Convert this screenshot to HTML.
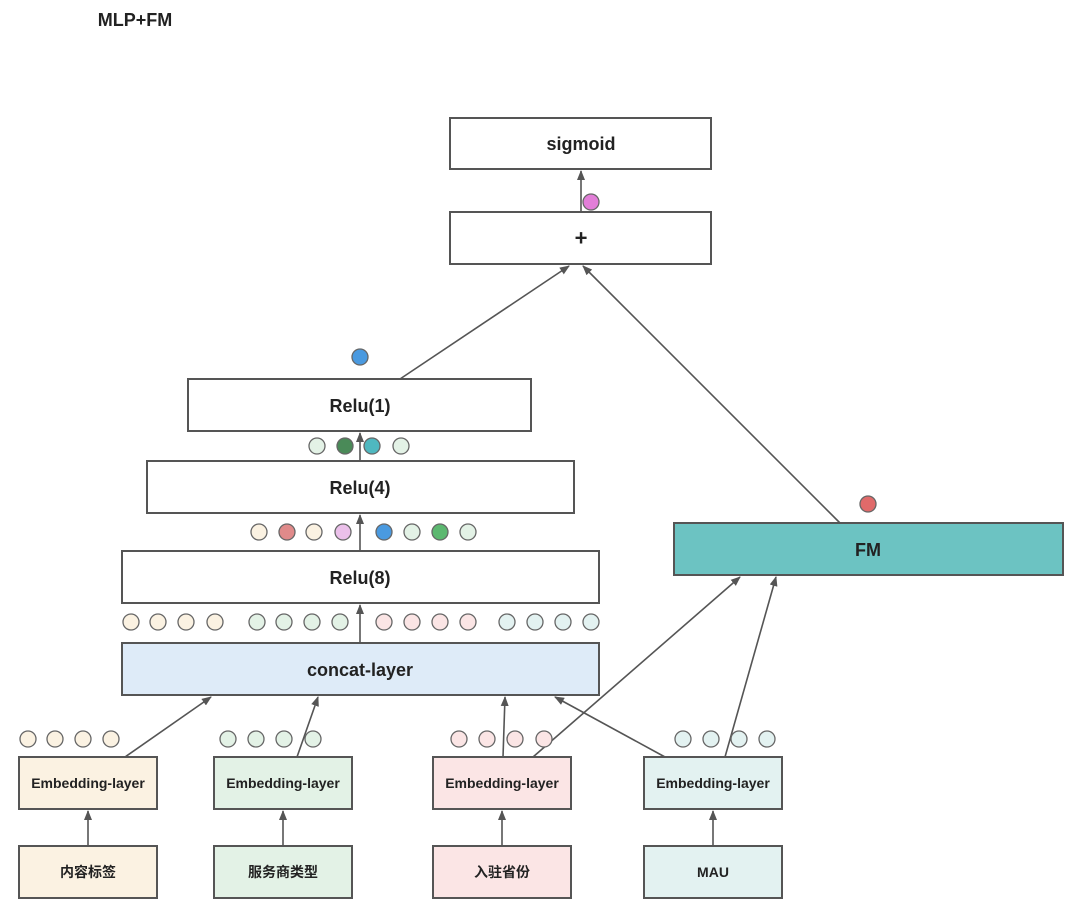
<!DOCTYPE html>
<html><head><meta charset="utf-8"><style>
body{margin:0;background:#fff}
svg text{font-family:"Liberation Sans","Noto Sans CJK SC",sans-serif;font-weight:bold;fill:#222;text-anchor:middle;dominant-baseline:central}
</style></head><body>
<svg width="1080" height="904" viewBox="0 0 1080 904" xmlns="http://www.w3.org/2000/svg">
<defs><marker id="a" markerWidth="10" markerHeight="8" refX="9" refY="4" orient="auto" markerUnits="userSpaceOnUse"><path d="M0,0 L10,4 L0,8 z" fill="#555"/></marker></defs>
<text x="135" y="20" style="font-size:18px">MLP+FM</text>
<g stroke="#555" stroke-width="2">
<rect x="450" y="118" width="261" height="51" fill="#fff"/>
<rect x="450" y="212" width="261" height="52" fill="#fff"/>
<rect x="188" y="379" width="343" height="52" fill="#fff"/>
<rect x="147" y="461" width="427" height="52" fill="#fff"/>
<rect x="122" y="551" width="477" height="52" fill="#fff"/>
<rect x="122" y="643" width="477" height="52" fill="#deebf8"/>
<rect x="674" y="523" width="389" height="52" fill="#6cc3c2"/>
<rect x="19" y="757" width="138" height="52" fill="#fbf2e2"/>
<rect x="214" y="757" width="138" height="52" fill="#e3f2e6"/>
<rect x="433" y="757" width="138" height="52" fill="#fbe5e5"/>
<rect x="644" y="757" width="138" height="52" fill="#e3f2f1"/>
<rect x="19" y="846" width="138" height="52" fill="#fbf2e2"/>
<rect x="214" y="846" width="138" height="52" fill="#e3f2e6"/>
<rect x="433" y="846" width="138" height="52" fill="#fbe5e5"/>
<rect x="644" y="846" width="138" height="52" fill="#e3f2f1"/>
</g>
<g stroke="#555" stroke-width="1.6" fill="none" marker-end="url(#a)">
<line x1="581" y1="212" x2="581" y2="171"/>
<line x1="400" y1="379" x2="569" y2="266"/>
<line x1="840" y1="523" x2="583" y2="266"/>
<line x1="360" y1="461" x2="360" y2="433"/>
<line x1="360" y1="551" x2="360" y2="515"/>
<line x1="360" y1="643" x2="360" y2="605"/>
<line x1="125" y1="757" x2="211" y2="697"/>
<line x1="297" y1="757" x2="318" y2="697"/>
<line x1="503" y1="757" x2="505" y2="697"/>
<line x1="665" y1="757" x2="555" y2="697"/>
<line x1="533" y1="757" x2="740" y2="577"/>
<line x1="725" y1="757" x2="776" y2="577"/>
<line x1="88" y1="846" x2="88" y2="811"/>
<line x1="283" y1="846" x2="283" y2="811"/>
<line x1="502" y1="846" x2="502" y2="811"/>
<line x1="713" y1="846" x2="713" y2="811"/>
</g>
<g stroke="#666" stroke-width="1.3">
<circle cx="591" cy="202" r="8" fill="#e27ed8"/>
<circle cx="360" cy="357" r="8" fill="#4a9ae0"/>
<circle cx="868" cy="504" r="8" fill="#e06a6a"/>
<circle cx="317" cy="446" r="8" fill="#e3f2e6"/><circle cx="345" cy="446" r="8" fill="#4a8a58"/><circle cx="372" cy="446" r="8" fill="#4fb8c0"/><circle cx="401" cy="446" r="8" fill="#e3f2e6"/>
<circle cx="259" cy="532" r="8" fill="#fbf2e2"/><circle cx="287" cy="532" r="8" fill="#e08a8a"/><circle cx="314" cy="532" r="8" fill="#fbf2e2"/><circle cx="343" cy="532" r="8" fill="#ebc0ea"/>
<circle cx="384" cy="532" r="8" fill="#4a9ae0"/><circle cx="412" cy="532" r="8" fill="#e3f2e6"/><circle cx="440" cy="532" r="8" fill="#5cb870"/><circle cx="468" cy="532" r="8" fill="#e3f2e6"/>
<g fill="#fbf2e2"><circle cx="131" cy="622" r="8"/><circle cx="158" cy="622" r="8"/><circle cx="186" cy="622" r="8"/><circle cx="215" cy="622" r="8"/>
<circle cx="28" cy="739" r="8"/><circle cx="55" cy="739" r="8"/><circle cx="83" cy="739" r="8"/><circle cx="111" cy="739" r="8"/></g>
<g fill="#e3f2e6"><circle cx="257" cy="622" r="8"/><circle cx="284" cy="622" r="8"/><circle cx="312" cy="622" r="8"/><circle cx="340" cy="622" r="8"/>
<circle cx="228" cy="739" r="8"/><circle cx="256" cy="739" r="8"/><circle cx="284" cy="739" r="8"/><circle cx="313" cy="739" r="8"/></g>
<g fill="#fbe5e5"><circle cx="384" cy="622" r="8"/><circle cx="412" cy="622" r="8"/><circle cx="440" cy="622" r="8"/><circle cx="468" cy="622" r="8"/>
<circle cx="459" cy="739" r="8"/><circle cx="487" cy="739" r="8"/><circle cx="515" cy="739" r="8"/><circle cx="544" cy="739" r="8"/></g>
<g fill="#e3f2f1"><circle cx="507" cy="622" r="8"/><circle cx="535" cy="622" r="8"/><circle cx="563" cy="622" r="8"/><circle cx="591" cy="622" r="8"/>
<circle cx="683" cy="739" r="8"/><circle cx="711" cy="739" r="8"/><circle cx="739" cy="739" r="8"/><circle cx="767" cy="739" r="8"/></g>
</g>
<g style="font-size:18px">
<text x="581" y="144">sigmoid</text>
<text x="581" y="238" style="font-size:22px">+</text>
<text x="360" y="406">Relu(1)</text>
<text x="360" y="488">Relu(4)</text>
<text x="360" y="578">Relu(8)</text>
<text x="360" y="670">concat-layer</text>
<text x="868" y="550">FM</text>
</g>
<g style="font-size:14px">
<text x="88" y="783">Embedding-layer</text>
<text x="283" y="783">Embedding-layer</text>
<text x="502" y="783">Embedding-layer</text>
<text x="713" y="783">Embedding-layer</text>
<text x="88" y="872">内容标签</text>
<text x="283" y="872">服务商类型</text>
<text x="502" y="872">入驻省份</text>
<text x="713" y="872">MAU</text>
</g>
</svg>
</body></html>
